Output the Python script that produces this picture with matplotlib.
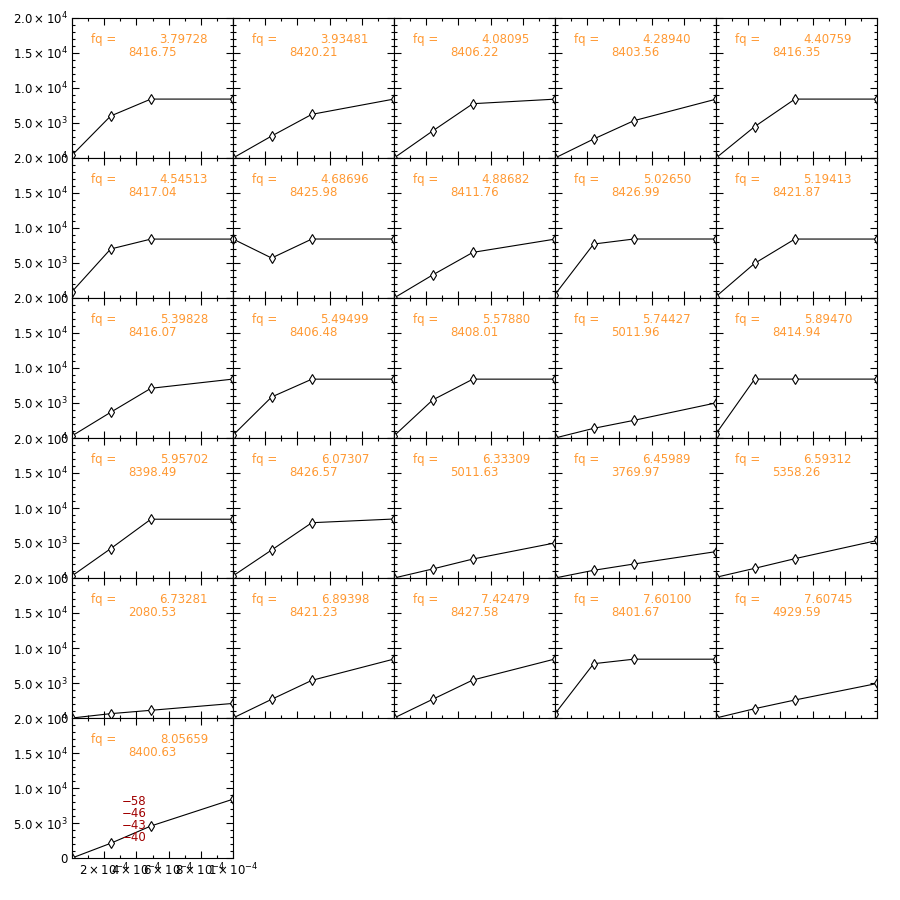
import matplotlib
matplotlib.use("Agg")
import matplotlib.pyplot as plt
from matplotlib.ticker import MultipleLocator, FixedLocator, FixedFormatter, NullFormatter

# ---------------- data ----------------
x_pos = [0.0, 2.4e-4, 4.9e-4, 1.0e-3]

fq_labels = ["3.79728", "3.93481", "4.08095", "4.28940", "4.40759",
             "4.54513", "4.68696", "4.88682", "5.02650", "5.19413",
             "5.39828", "5.49499", "5.57880", "5.74427", "5.89470",
             "5.95702", "6.07307", "6.33309", "6.45989", "6.59312",
             "6.73281", "6.89398", "7.42479", "7.60100", "7.60745",
             "8.05659"]

final_vals = [8416.75, 8420.21, 8406.22, 8403.56, 8416.35,
              8417.04, 8425.98, 8411.76, 8426.99, 8421.87,
              8416.07, 8406.48, 8408.01, 5011.96, 8414.94,
              8398.49, 8426.57, 5011.63, 3769.97, 5358.26,
              2080.53, 8421.23, 8427.58, 8401.67, 4929.59,
              8400.63]

y_values = [
    [400, 6000, 8417, 8417],
    [0, 3140, 6240, 8420],
    [0, 3860, 7760, 8406],
    [0, 2710, 5330, 8404],
    [0, 4480, 8416, 8416],
    [900, 7000, 8417, 8417],
    [8426, 5710, 8426, 8426],
    [0, 3290, 6520, 8412],
    [500, 7710, 8427, 8427],
    [200, 4950, 8422, 8422],
    [300, 3670, 7100, 8416],
    [400, 5860, 8406, 8406],
    [300, 5430, 8408, 8408],
    [0, 1380, 2520, 5012],
    [600, 8415, 8415, 8415],
    [300, 4190, 8398, 8398],
    [300, 4000, 7900, 8427],
    [0, 1290, 2710, 5012],
    [0, 1100, 2000, 3770],
    [100, 1380, 2760, 5358],
    [0, 620, 1100, 2081],
    [0, 2670, 5380, 8421],
    [0, 2670, 5430, 8428],
    [600, 7760, 8402, 8402],
    [0, 1330, 2570, 4930],
    [0, 2100, 4570, 8401],
]

y_tick_vals = [0, 5000, 10000, 15000, 20000]
y_tick_labels = ["0", r"$5.0\times10^{3}$", r"$1.0\times10^{4}$",
                 r"$1.5\times10^{4}$", r"$2.0\times10^{4}$"]
x_tick_vals = [2e-4, 4e-4, 6e-4, 8e-4, 1e-3]
x_tick_labels = [r"$2\times10^{-4}$", r"$4\times10^{-4}$", r"$6\times10^{-4}$",
                 r"$8\times10^{-4}$", r"$1\times10^{-4}$"]
red_labels = ["\u221258", "\u221246", "\u221243", "\u221240"]

# ---------------- layout ----------------
W = H = 900
fig = plt.figure(figsize=(9, 9), dpi=100)
ncols = 5
left0, top0 = 72, 18
pw, ph = 161, 140
orange = "#ff9933"
darkred = "#a00000"
fs = 8.5

plt.rcParams["mathtext.fontset"] = "dejavusans"

for i in range(len(fq_labels)):
    r, c = divmod(i, ncols)
    lx = left0 + c * pw
    ty = top0 + r * ph
    ax = fig.add_axes([lx / W, 1 - (ty + ph) / H, pw / W, ph / H])
    ax.plot(x_pos, y_values[i], color="black", lw=0.8, marker="d",
            markersize=5.5, markerfacecolor="white", markeredgecolor="black",
            markeredgewidth=0.8, clip_on=True)
    ax.set_xlim(0, 1e-3)
    ax.set_ylim(0, 20000)
    ax.xaxis.set_major_locator(FixedLocator([0] + x_tick_vals))
    ax.xaxis.set_minor_locator(MultipleLocator(1e-4))
    ax.yaxis.set_major_locator(FixedLocator(y_tick_vals))
    ax.yaxis.set_minor_locator(MultipleLocator(1000))
    ax.tick_params(which="both", direction="in", top=True, right=True,
                   width=0.8, colors="black", labelsize=fs)
    ax.tick_params(which="major", length=5)
    ax.tick_params(which="minor", length=2.5)
    for s in ax.spines.values():
        s.set_linewidth(0.8)
    if c == 0:
        ax.yaxis.set_major_formatter(FixedFormatter(y_tick_labels))
        ax.tick_params(axis="y", pad=3)
    else:
        ax.yaxis.set_major_formatter(NullFormatter())
    if i == len(fq_labels) - 1:
        ax.xaxis.set_major_formatter(FixedFormatter([""] + x_tick_labels))
        ax.tick_params(axis="x", pad=3)
    else:
        ax.xaxis.set_major_formatter(NullFormatter())

    ax.text(0.118, 0.843, "fq =", transform=ax.transAxes, color=orange,
            fontsize=fs, ha="left", va="center")
    ax.text(0.845, 0.843, fq_labels[i], transform=ax.transAxes, color=orange,
            fontsize=fs, ha="right", va="center")
    ax.text(0.348, 0.757, "%.2f" % final_vals[i], transform=ax.transAxes,
            color=orange, fontsize=fs, ha="left", va="center")

    if i == len(fq_labels) - 1:
        for k, (lab, yf) in enumerate(zip(red_labels, [0.407, 0.321, 0.229, 0.143])):
            ax.text(0.31, yf, lab, transform=ax.transAxes, color=darkred,
                    fontsize=fs, ha="left", va="center")

fig.savefig("out.png", dpi=100, facecolor="white")
